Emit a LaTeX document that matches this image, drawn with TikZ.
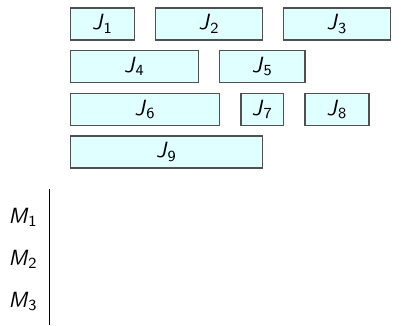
\documentclass[tikz,border=0pt]{standalone}
\definecolor{jobfill}{HTML}{E0FFFF}
\definecolor{jobdraw}{HTML}{505050}
\newcommand\lbl[2]{\textit{#1}\textsubscript{\upshape #2}}
\begin{document}
\begin{tikzpicture}[x=0.375cm,y=-0.375cm,
  font=\sffamily\fontsize{11}{13}\selectfont,
  job/.style={draw=jobdraw,fill=jobfill,line width=0.6pt},
  mach/.style={anchor=east,inner sep=0pt}]
\useasboundingbox (0,0) rectangle (19.08,15.28);
% row 1
\draw[job] (3.3,0.375) rectangle (6.3,1.875) node[midway] (j1) {\lbl{J}{1}};
\draw[job] (7.3,0.375) rectangle (12.3,1.875) node[midway] (j2) {\lbl{J}{2}};
\draw[job] (13.3,0.375) rectangle (18.3,1.875) node[midway] (j3) {\lbl{J}{3}};
% row 2
\draw[job] (3.3,2.375) rectangle (9.3,3.875) node[midway] (j4) {\lbl{J}{4}};
\draw[job] (10.3,2.375) rectangle (14.3,3.875) node[midway] (j5) {\lbl{J}{5}};
% row 3
\draw[job] (3.3,4.375) rectangle (10.3,5.875) node[midway] (j6) {\lbl{J}{6}};
\draw[job] (11.3,4.375) rectangle (13.3,5.875) node[midway] (j7) {\lbl{J}{7}};
\draw[job] (14.3,4.375) rectangle (17.3,5.875) node[midway] (j8) {\lbl{J}{8}};
% row 4
\draw[job] (3.3,6.375) rectangle (12.3,7.875) node[midway] (j9) {\lbl{J}{9}};
% machines
\coordinate (axtop) at (2.31,8.875);
\coordinate (axbot) at (2.31,15.25);
\draw[line width=0.5pt] (axtop) -- (axbot);
\node[mach] (m1) at (1.78,10.18) {\lbl{M}{1}};
\node[mach] (m2) at (1.78,12.15) {\lbl{M}{2}};
\node[mach] (m3) at (1.78,14.14) {\lbl{M}{3}};
\end{tikzpicture}
\end{document}
